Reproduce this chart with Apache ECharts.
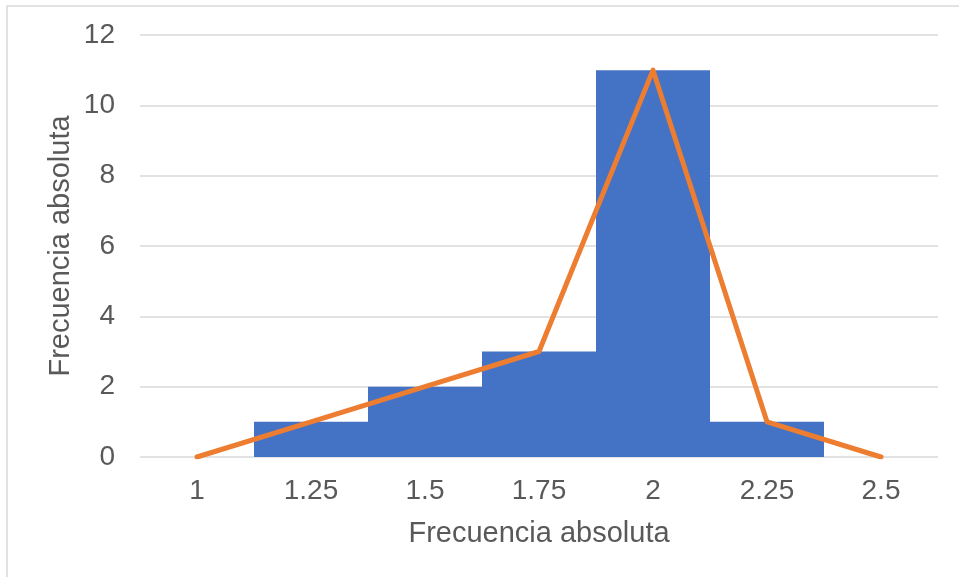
<!DOCTYPE html>
<html><head><meta charset="utf-8">
<script src="https://cdn.jsdelivr.net/npm/echarts@6/dist/echarts.min.js"></script>
<style>html,body{margin:0;padding:0;background:#fff}#c{width:959px;height:577px}</style>
</head><body><div id="c"></div>
<script>
const categories = ['1','1.25','1.5','1.75','2','2.25','2.5'];
const barValues = [0,1,2,3,11,1,0];
const lineValues = [0,1,2,3,11,1,0];
const yTicks = {min:0,max:12,interval:2};
const axisTitle = 'Frecuencia absoluta';

const chart = echarts.init(document.getElementById('c'));
const font = '"Liberation Sans", Arial, sans-serif';
chart.setOption({
  animation:false,
  backgroundColor:'#fff',
  graphic:[{type:'rect',shape:{x:7,y:6,width:960,height:580},style:{fill:'none',stroke:'#D9D9D9',lineWidth:1.5},silent:true}],
  grid:{left:140,right:21,top:35,bottom:120},
  xAxis:{type:'category',data:categories,boundaryGap:true,
    axisLine:{show:false},axisTick:{show:false},
    axisLabel:{color:'#595959',fontSize:28,fontFamily:font,margin:20},
    name:axisTitle,nameLocation:'middle',nameGap:62,nameMoveOverlap:false,
    nameTextStyle:{color:'#595959',fontSize:29,fontFamily:font}},
  yAxis:{type:'value',min:yTicks.min,max:yTicks.max,interval:yTicks.interval,
    axisLine:{show:false},axisTick:{show:false},
    splitLine:{lineStyle:{color:'#D9D9D9',width:1.5}},
    axisLabel:{color:'#595959',fontSize:28,fontFamily:font,margin:25},
    name:axisTitle,nameLocation:'middle',nameGap:65,nameRotate:90,nameMoveOverlap:false,
    nameTextStyle:{color:'#595959',fontSize:29,fontFamily:font}},
  series:[
    {type:'bar',data:barValues,barCategoryGap:'0%',
     itemStyle:{color:'#4472C4'}},
    {type:'line',data:lineValues,symbol:'none',
     lineStyle:{color:'#ED7D31',width:5,cap:'round',join:'round'}}
  ]
});
</script></body></html>
